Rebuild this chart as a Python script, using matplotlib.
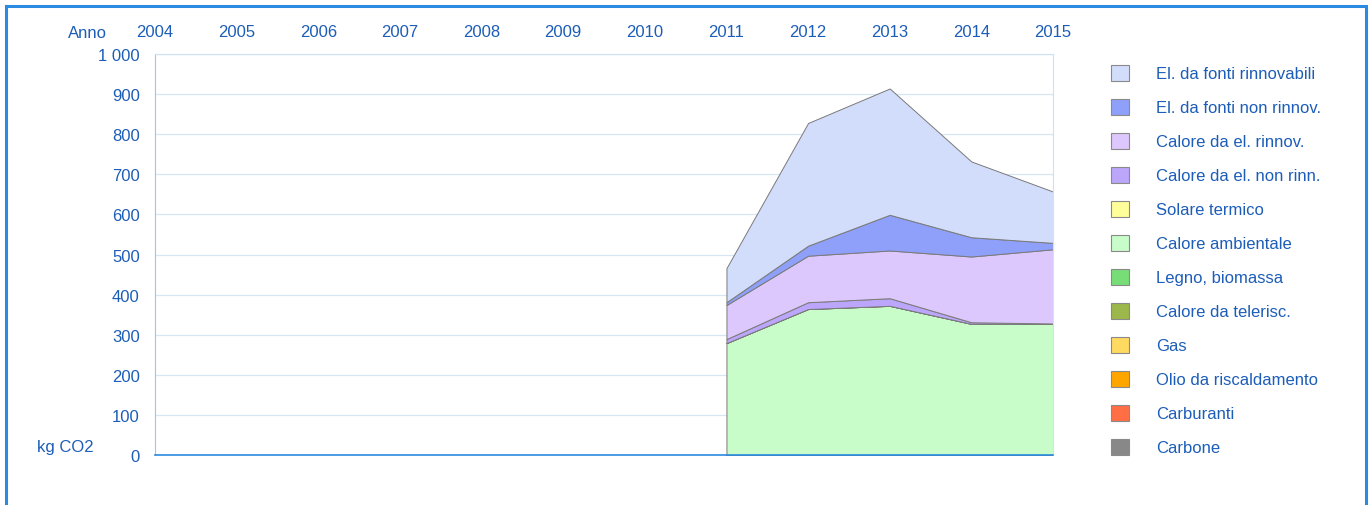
import matplotlib
matplotlib.use('Agg')
import matplotlib.pyplot as plt
import matplotlib.patches as mpatches
import numpy as np

# ---- data (kg CO2 per year) ----
tick_years = list(range(2004, 2016))
data_years = [2011, 2012, 2013, 2014, 2015]

series_names = [
    'Carbone', 'Carburanti', 'Olio da riscaldamento', 'Gas',
    'Calore da telerisc.', 'Legno, biomassa', 'Calore ambientale',
    'Solare termico', 'Calore da el. non rinn.', 'Calore da el. rinnov.',
    'El. da fonti non rinnov.', 'El. da fonti rinnovabili',
]
carbone       = [0, 0, 0, 0, 0]
carburanti    = [0, 0, 0, 0, 0]
olio          = [0, 0, 0, 0, 0]
gas           = [0, 0, 0, 0, 0]
telerisc      = [0, 0, 0, 0, 0]
legno         = [0, 0, 0, 0, 0]
ambientale    = [279, 364, 372, 327, 327]
solare        = [0, 0, 0, 0, 0]
cal_non_rinn  = [10, 17, 19, 4, 1]
cal_rinn      = [85, 116, 119, 164, 185]
el_non_rinn   = [7, 25, 89, 48, 16]
el_rinn       = [85, 306, 315, 189, 128]

series_values = [carbone, carburanti, olio, gas, telerisc, legno, ambientale,
                 solare, cal_non_rinn, cal_rinn, el_non_rinn, el_rinn]
series_colors = ['#888888', '#FF6E45', '#FFA500', '#FFDA60', '#9DB84A',
                 '#77DD77', '#C8FCC8', '#FFFF99', '#BBA6FB', '#DCC8FC',
                 '#8FA0FA', '#D2DDFC']

y_ticks = [0, 100, 200, 300, 400, 500, 600, 700, 800, 900, 1000]

TXT = '#1C5DB8'
FS = 12
plt.rcParams['font.family'] = ['Liberation Sans', 'DejaVu Sans']

W, H = 1372, 506
fig = plt.figure(figsize=(W / 100, H / 100), dpi=100)

# outer frame
fig.patches.append(mpatches.Rectangle((6 / W, -0.1), (1366 - 6) / W, 1.1 - 7 / H,
                                      transform=fig.transFigure, fill=False,
                                      edgecolor='#2A8BE0', linewidth=2.2))

ax = fig.add_axes([155 / W, 1 - 456 / H, (1053 - 155) / W, (456 - 55) / H])

ax.stackplot(data_years, *series_values, colors=series_colors,
             edgecolor='#7A7A7A', linewidth=0.7)

ax.set_xlim(2004, 2015)
ax.set_ylim(0, 1000)
ax.set_yticks(y_ticks)
ax.set_yticklabels(['1 000' if v == 1000 else str(v) for v in y_ticks])
ax.set_xticks(tick_years)
ax.set_xticklabels([str(y) for y in tick_years])
ax.xaxis.tick_top()
ax.tick_params(axis='both', length=0, labelsize=FS, labelcolor=TXT)
ax.tick_params(axis='x', pad=11)
ax.tick_params(axis='y', pad=11)
ax.grid(axis='y', color='#D6E6F4', linewidth=0.9)
ax.set_axisbelow(True)
for s in ['top', 'right']:
    ax.spines[s].set_color('#CFE2F4')
ax.spines['left'].set_color('#9CC6EE')
ax.spines['bottom'].set_color('#2A8BE0')
ax.spines['bottom'].set_linewidth(1.2)

fig.text(87 / W, 1 - 33 / H, 'Anno', ha='center', va='center',
         color=TXT, fontsize=FS)
fig.text(65 / W, 1 - 448 / H, 'kg CO2', ha='center', va='center',
         color=TXT, fontsize=FS)

# legend (top: renewables electricity, bottom: coal)
handles = [mpatches.Patch(facecolor=c, edgecolor='#8A8A8A', linewidth=0.8, label=n)
           for n, c in zip(series_names, series_colors)][::-1]
leg = fig.legend(handles=handles, loc='upper left',
                 bbox_to_anchor=(1104 / W, 1 - 59 / H), frameon=False,
                 fontsize=FS, labelcolor=TXT, handlelength=1.1,
                 handleheight=1.1, handletextpad=1.65, labelspacing=1.04,
                 borderaxespad=0)

fig.savefig('out.png', dpi=100, facecolor='white')
